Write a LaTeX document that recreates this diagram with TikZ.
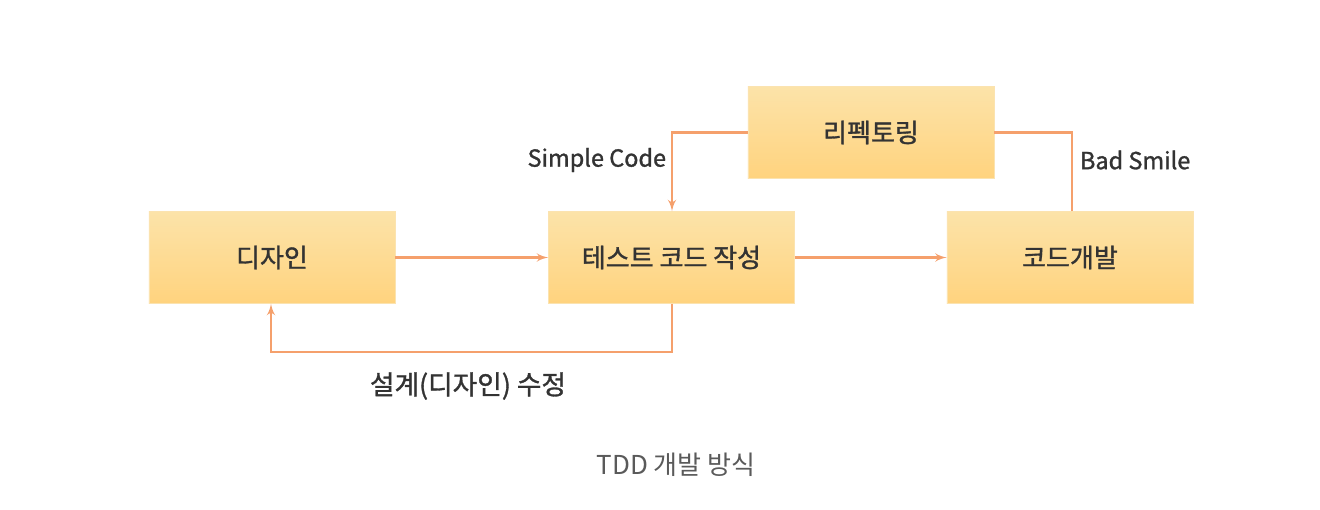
\documentclass[tikz,border=0pt]{standalone}
\usepackage{fontspec}
\newfontfamily\kr{Noto Sans CJK KR}
\newfontfamily\krb{Noto Sans CJK KR}[FakeBold=1.2]
\usepackage{tikz}
\usetikzlibrary{positioning}
\usetikzlibrary{arrows,shapes}
\usetikzlibrary{calc}
\definecolor{boxtop}{HTML}{FCE3A9}
\definecolor{boxbot}{HTML}{FFD37E}
\definecolor{boxline}{HTML}{FBE3B0}
\definecolor{flow}{HTML}{F5A06C}
\definecolor{txt}{HTML}{333333}
\definecolor{cap}{HTML}{5A5A5A}

\begin{document}
\begin{tikzpicture}[x=0.025cm,y=-0.025cm]

\tikzset{step box/.style = {shape=rectangle,draw=boxline,top color=boxtop,bottom color=boxbot,minimum width=6.15cm,minimum height=2.3cm,text=txt,font=\krb\fontsize{18.5}{22}\selectfont}}
\tikzset{edge/.style = {->,> = latex',draw=flow,line width=1.8pt}}
\tikzset{line/.style = {draw=flow,line width=1.8pt}}
\tikzset{label/.style = {text=txt,font=\krb\fontsize{16.7}{20}\selectfont}}

\useasboundingbox (0,0) rectangle (1320,510);

%boxes
\node[step box] (design) at (272,257.5) {디자인};
\node[step box] (test) at (671.5,257.5) {테스트 코드 작성};
\node[step box] (dev) at (1070,257.5) {코드개발};
\node[step box] (refac) at (871,132.5) {리펙토링};

%bend points
\coordinate (c1) at (672,132.5);
\coordinate (c2) at (1072,132.5);
\coordinate (c3) at (672,352);
\coordinate (c4) at (271,352);

%horizontal edge
\draw[edge] (design) to (test);
\draw[edge] (test) to (dev);

%refactoring loop
\draw[edge] (refac.west) -- (c1) -- (test.north -| c1);
\draw[line] (dev.north -| c2) -- (c2) -- (refac.east);

%back to design
\draw[edge] (test.south -| c3) -- (c3) -- (c4) -- (design.south -| c4);

%labels
\node[label,anchor=east] (simple) at (671,160) {Simple Code};
\node[label,anchor=west] (bad) at (1075,160) {Bad Smile};
\node[label,font=\krb\fontsize{19}{22}\selectfont] (fix) at (468,386) {설계(디자인) 수정};
\node[text=cap,font=\kr\fontsize{18.5}{22}\selectfont] (title) at (676,465) {TDD 개발 방식};

\end{tikzpicture}
\end{document}
